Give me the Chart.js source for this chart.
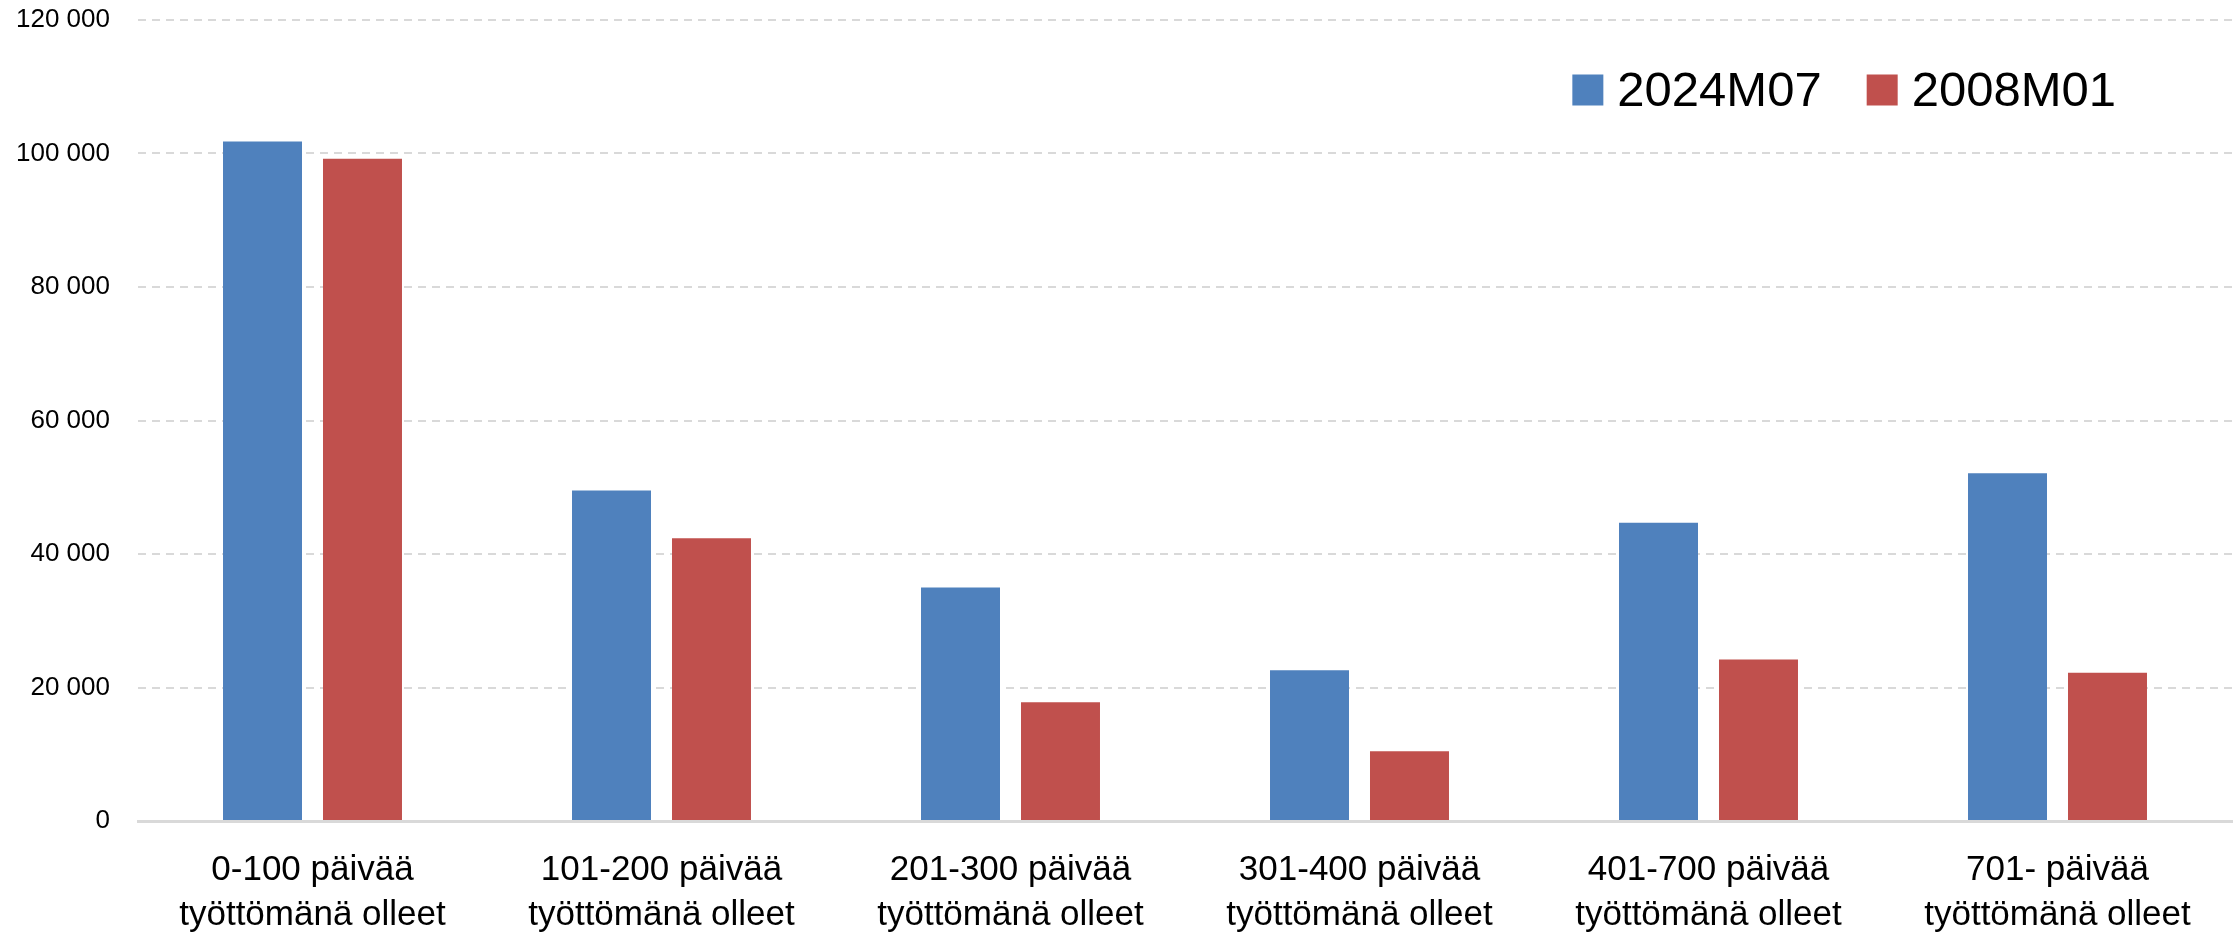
<!DOCTYPE html>
<html>
<head>
<meta charset="utf-8">
<script src="https://cdn.jsdelivr.net/npm/chart.js@4.4.1/dist/chart.umd.min.js"></script>
<style>
  html, body { margin: 0; padding: 0; background: #fff; }
  #wrap { position: relative; width: 2233px; height: 934px; }
</style>
</head>
<body>
<div id="wrap"><canvas id="barChart"></canvas></div>
<script>
// Data
const categories = [
  ['0-100 päivää', 'työttömänä olleet'],
  ['101-200 päivää', 'työttömänä olleet'],
  ['201-300 päivää', 'työttömänä olleet'],
  ['301-400 päivää', 'työttömänä olleet'],
  ['401-700 päivää', 'työttömänä olleet'],
  ['701- päivää', 'työttömänä olleet']
];
const seriesNames = ['2024M07', '2008M01'];
const values2024 = [101800, 49500, 35000, 22600, 44700, 52100];
const values2008 = [99200, 42350, 17800, 10450, 24200, 22200];
const yTicks = [0, 20000, 40000, 60000, 80000, 100000, 120000];

const FONT = "'Liberation Sans', Arial, sans-serif";
const BLUE = '#4f81bd';
const RED = '#c0504d';

function fmt(v) {
  return String(v).replace(/\B(?=(\d{3})+(?!\d))/g, ' ');
}

// Legend drawn inside the plot area, top right
const insideLegend = {
  id: 'insideLegend',
  afterDraw(chart) {
    const { ctx, chartArea } = chart;
    const size = 49, box = 31, boxGap = 14, itemGap = 45;
    ctx.save();
    ctx.font = size + 'px ' + FONT;
    ctx.textBaseline = 'middle';
    const items = chart.data.datasets.map(ds => ({
      text: ds.label, color: ds.backgroundColor, w: ctx.measureText(ds.label).width
    }));
    let total = 0;
    items.forEach((it, i) => { total += box + boxGap + it.w + (i ? itemGap : 0); });
    let x = chartArea.right - 116 - total;
    const cy = 90;
    items.forEach((it, i) => {
      if (i) x += itemGap;
      ctx.fillStyle = it.color;
      ctx.fillRect(x, cy - box / 2, box, box);
      x += box + boxGap;
      ctx.fillStyle = '#000';
      ctx.fillText(it.text, x, cy + 2);
      x += it.w;
    });
    ctx.restore();
  }
};

const barChartCtx = document.getElementById('barChart').getContext('2d');
const barChart = new Chart(barChartCtx, {
  type: 'bar',
  data: {
    labels: categories,
    datasets: [
      { label: seriesNames[0], data: values2024, backgroundColor: BLUE },
      { label: seriesNames[1], data: values2008, backgroundColor: RED }
    ]
  },
  options: {
    responsive: true,
    maintainAspectRatio: false,
    animation: false,
    devicePixelRatio: 1,
    layout: { padding: { top: 20, left: 15, right: 1, bottom: 0 } },
    datasets: {
      bar: { categoryPercentage: 0.573, barPercentage: 0.79 }
    },
    plugins: {
      legend: { display: false },
      tooltip: { enabled: false }
    },
    scales: {
      x: {
        grid: { display: false, drawTicks: false },
        border: { display: true, color: '#d9d9d9', width: 3 },
        afterFit: s => { s.height = 113; s.paddingLeft = 0; s.paddingRight = 0; },
        ticks: {
          color: '#000',
          padding: 27,
          maxRotation: 0,
          autoSkip: false,
          font: { family: FONT, size: 35, lineHeight: 1.286 }
        }
      },
      y: {
        min: 0,
        max: 120000,
        afterBuildTicks: axis => { axis.ticks = yTicks.map(v => ({ value: v })); },
        afterFit: s => { s.width = 123; s.paddingTop = 0; s.paddingBottom = 0; },
        grid: {
          drawTicks: false,
          lineWidth: 2,
          color: c => (c.tick && c.tick.value === 0) ? 'rgba(0,0,0,0)' : '#d9d9d9'
        },
        border: { display: false, dash: [8, 6] },
        ticks: {
          color: '#000',
          padding: 28,
          font: { family: FONT, size: 26 },
          callback: v => fmt(v)
        }
      }
    }
  },
  plugins: [insideLegend]
});
</script>
</body>
</html>
